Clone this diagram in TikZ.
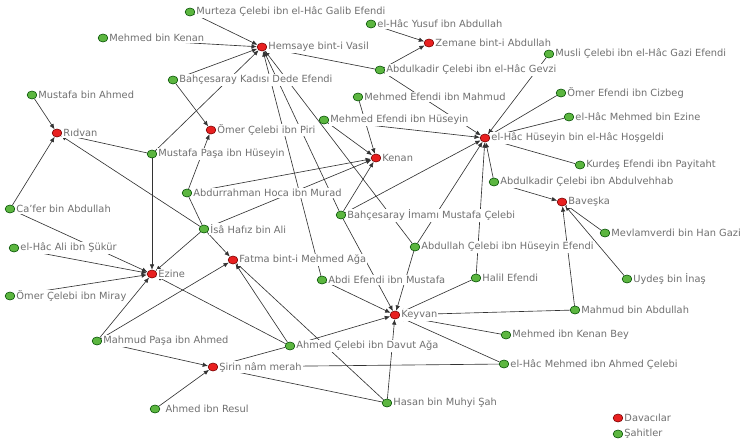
\documentclass[tikz,border=0pt]{standalone}
\usepackage{fontspec}
\setmainfont{DejaVu Sans}
\usepackage{tikz}
\definecolor{davared}{RGB}{232, 32, 32}
\definecolor{sahitgreen}{RGB}{92, 182, 64}
\definecolor{labelgray}{RGB}{112, 112, 112}
\usetikzlibrary{shapes.geometric, arrows.meta, backgrounds}

\begin{document}
\begin{tikzpicture}[
    x=0.025cm, y=-0.025cm,
    dot/.style={ellipse, draw, line width=0.4pt, inner sep=0pt, minimum width=0.245cm, minimum height=0.2cm},
    dava/.style={dot, fill=davared, draw=red!45!black},
    sahit/.style={dot, fill=sahitgreen, draw=green!30!black},
    lbl/.style={font=\fontsize{7}{8.4}\selectfont, text=labelgray, fill=white, inner sep=0.7pt},
    edge/.style={-{Latex[length=3.8pt,width=3.2pt]}, line width=0.45pt, draw=black!80}
]
    \useasboundingbox (0,0) rectangle (740,443);

    % Davacilar
    \node[dava, label={[lbl]right:Hemsaye bint-i Vasil}] (hemsaye) at (262,47) {};
    \node[dava, label={[lbl]right:Zemane bint-i Abdullah}] (zemane) at (429,43) {};
    \node[dava, label={[lbl]right:Rıdvan}] (ridvan) at (57,133) {};
    \node[dava, label={[lbl]right:Ömer Çelebi ibn Piri}] (omerPiri) at (211,130) {};
    \node[dava, label={[lbl]right:Kenan}] (kenan) at (376,158) {};
    \node[dava, label={[lbl]right:el-Hâc Hüseyin bin el-Hâc Hoşgeldi}] (elhac) at (485,138) {};
    \node[dava, label={[lbl]right:Baveşka}] (baveska) at (562,202) {};
    \node[dava, label={[lbl]right:Ezine}] (ezine) at (152,274) {};
    \node[dava, label={[lbl]right:Fatma bint-i Mehmed Ağa}] (fatma) at (233,260) {};
    \node[dava, label={[lbl]right:Keyvan}] (keyvan) at (395,315) {};
    \node[dava, label={[lbl]right:Şirin nâm merah}] (sirin) at (213,367) {};

    % Sahitler
    \node[sahit, label={[lbl]right:Murteza Çelebi ibn el-Hâc Galib Efendi}] (murteza) at (190,12) {};
    \node[sahit, label={[lbl]right:Mehmed bin Kenan}] (mehmedKenan) at (103,38) {};
    \node[sahit, label={[lbl]right:Bahçesaray Kadısı Dede Efendi}] (dedeEfendi) at (173,80) {};
    \node[sahit, label={[lbl]right:Mustafa bin Ahmed}] (mustafaAhmed) at (32,95) {};
    \node[sahit, label={[lbl]right:el-Hâc Yusuf ibn Abdullah}] (yusuf) at (371,24) {};
    \node[sahit, label={[lbl]right:Abdulkadir Çelebi ibn el-Hâc Gevzi}] (gevzi) at (380,70) {};
    \node[sahit, label={[lbl]right:Musli Çelebi ibn el-Hâc Gazi Efendi}] (musli) at (549,54) {};
    \node[sahit, label={[lbl]right:Mehmed Efendi ibn Mahmud}] (mehmedMahmud) at (358,97) {};
    \node[sahit, label={[lbl]right:Ömer Efendi ibn Cizbeg}] (cizbeg) at (561,93) {};
    \node[sahit, label={[lbl]right:Mehmed Efendi ibn Hüseyin}] (mehmedHuseyin) at (324,120) {};
    \node[sahit, label={[lbl]right:el-Hâc Mehmed bin Ezine}] (mehmedEzine) at (569,117) {};
    \node[sahit, label={[lbl]right:Mustafa Paşa ibn Hüseyin}] (mustafaPasa) at (152,154) {};
    \node[sahit, label={[lbl]right:Kurdeş Efendi ibn Payitaht}] (kurdes) at (580,165) {};
    \node[sahit, label={[lbl]right:Abdurrahman Hoca ibn Murad}] (abdurrahman) at (187,193) {};
    \node[sahit, label={[lbl]right:Abdulkadir Çelebi ibn Abdulvehhab}] (abdulvehhab) at (494,182) {};
    \node[sahit, label={[lbl]right:Ca'fer bin Abdullah}] (cafer) at (10,209) {};
    \node[sahit, label={[lbl]right:Bahçesaray İmamı Mustafa Çelebi}] (imam) at (341,215) {};
    \node[sahit, label={[lbl]right:İsâ Hafız bin Ali}] (isa) at (204,229) {};
    \node[sahit, label={[lbl]right:el-Hâc Ali ibn Şükür}] (aliSukur) at (14,248) {};
    \node[sahit, label={[lbl]right:Abdullah Çelebi ibn Hüseyin Efendi}] (abdullahCelebi) at (415,247) {};
    \node[sahit, label={[lbl]right:Mevlamverdi bin Han Gazi}] (mevlamverdi) at (605,233) {};
    \node[sahit, label={[lbl]right:Abdi Efendi ibn Mustafa}] (abdi) at (322,280) {};
    \node[sahit, label={[lbl]right:Halil Efendi}] (halil) at (476,278) {};
    \node[sahit, label={[lbl]right:Uydeş bin İnaş}] (uydes) at (627,279) {};
    \node[sahit, label={[lbl]right:Ömer Çelebi ibn Miray}] (omerMiray) at (10,296) {};
    \node[sahit, label={[lbl]right:Mahmud bin Abdullah}] (mahmudAbdullah) at (575,310) {};
    \node[sahit, label={[lbl]right:Mehmed ibn Kenan Bey}] (mehmedKenanBey) at (506,335) {};
    \node[sahit, label={[lbl]right:Mahmud Paşa ibn Ahmed}] (mahmudPasa) at (97,341) {};
    \node[sahit, label={[lbl]right:Ahmed Çelebi ibn Davut Ağa}] (ahmedDavut) at (290,346) {};
    \node[sahit, label={[lbl]right:el-Hâc Mehmed ibn Ahmed Çelebi}] (mehmedAhmed) at (504,364) {};
    \node[sahit, label={[lbl,xshift=3pt]right:Ahmed ibn Resul}] (ahmedResul) at (155,409) {};
    \node[sahit, label={[lbl]right:Hasan bin Muhyi Şah}] (hasan) at (387,403) {};

    % Legend
    \node[dava, label={[lbl]right:Davacılar}] (legDava) at (618,418) {};
    \node[sahit, label={[lbl]right:Şahitler}] (legSahit) at (618,434) {};

    \begin{scope}[on background layer]
    % Hemsaye bint-i Vasil
    \draw[edge] (murteza) -- (hemsaye);
    \draw[edge] (mehmedKenan) -- (hemsaye);
    \draw[edge] (dedeEfendi) -- (hemsaye);
    \draw[edge] (mustafaPasa) -- (hemsaye);
    \draw[edge] (gevzi) -- (hemsaye);
    \draw[edge] (abdi) -- (hemsaye);
    \draw[edge] (imam) -- (hemsaye);
    \draw[edge] (abdullahCelebi) -- (hemsaye);

    % Zemane bint-i Abdullah
    \draw[edge] (yusuf) -- (zemane);
    \draw[edge] (gevzi) -- (zemane);

    % Ridvan
    \draw[edge] (mustafaAhmed) -- (ridvan);
    \draw[edge] (cafer) -- (ridvan);
    \draw[edge] (mustafaPasa) -- (ridvan);
    \draw[edge] (isa) -- (ridvan);

    % Omer Celebi ibn Piri
    \draw[edge] (dedeEfendi) -- (omerPiri);
    \draw[edge] (abdurrahman) -- (omerPiri);

    % Kenan
    \draw[edge] (mehmedMahmud) -- (kenan);
    \draw[edge] (mehmedHuseyin) -- (kenan);
    \draw[edge] (abdurrahman) -- (kenan);
    \draw[edge] (isa) -- (kenan);
    \draw[edge] (imam) -- (kenan);

    % el-Hac Huseyin
    \draw[edge] (gevzi) -- (elhac);
    \draw[edge] (musli) -- (elhac);
    \draw[edge] (cizbeg) -- (elhac);
    \draw[edge] (mehmedEzine) -- (elhac);
    \draw[edge] (kurdes) -- (elhac);
    \draw[edge] (mehmedHuseyin) -- (elhac);
    \draw[edge] (abdulvehhab) -- (elhac);
    \draw[edge] (halil) -- (elhac);
    \draw[edge] (abdullahCelebi) -- (elhac);
    \draw[edge] (imam) -- (elhac);

    % Baveska
    \draw[edge] (abdulvehhab) -- (baveska);
    \draw[edge] (mevlamverdi) -- (baveska);
    \draw[edge] (uydes) -- (baveska);
    \draw[edge] (mahmudAbdullah) -- (baveska);

    % Ezine
    \draw[edge] (cafer) -- (ezine);
    \draw[edge] (aliSukur) -- (ezine);
    \draw[edge] (omerMiray) -- (ezine);
    \draw[edge] (mustafaPasa) -- (ezine);
    \draw[edge] (isa) -- (ezine);
    \draw[edge] (mahmudPasa) -- (ezine);
    \draw[edge] (ahmedDavut) -- (ezine);

    % Fatma bint-i Mehmed Aga
    \draw[edge, -] (abdurrahman) -- (isa);
    \draw[edge] (isa) -- (fatma);
    \draw[edge] (mahmudPasa) -- (fatma);
    \draw[edge] (ahmedDavut) -- (fatma);
    \draw[edge] (hasan) -- (fatma);

    % Keyvan
    \draw[edge] (abdi) -- (keyvan);
    \draw[edge] (imam) -- (keyvan);
    \draw[edge] (abdullahCelebi) -- (keyvan);
    \draw[edge] (halil) -- (keyvan);
    \draw[edge] (mahmudAbdullah) -- (keyvan);
    \draw[edge] (mehmedKenanBey) -- (keyvan);
    \draw[edge] (mehmedAhmed) -- (keyvan);
    \draw[edge] (hasan) -- (keyvan);
    \draw[edge] (ahmedDavut) -- (keyvan);

    % Sirin nam merah
    \draw[edge] (mahmudPasa) -- (sirin);
    \draw[edge] (ahmedResul) -- (sirin);
    \draw[edge] (ahmedDavut) -- (sirin);
    \draw[edge] (mehmedAhmed) -- (sirin);
    \draw[edge] (hasan) -- (sirin);
    \end{scope}

\end{tikzpicture}
\end{document}
